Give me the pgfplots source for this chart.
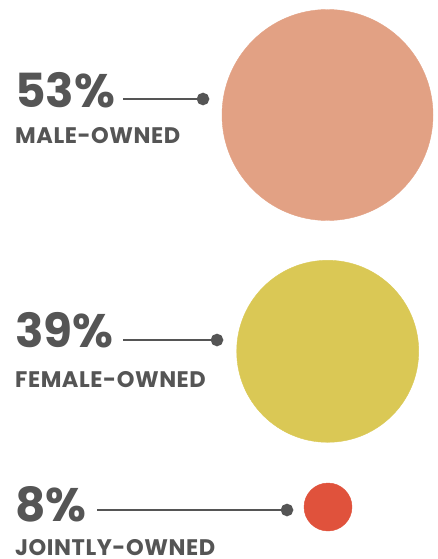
\documentclass[border=0pt]{standalone}
\usepackage{pgfplots}
\pgfplotsset{compat=1.18}
\usepackage{fontspec}
\setmainfont{Poppins}
\definecolor{txt}{HTML}{555555}
\definecolor{male}{HTML}{E2A184}
\definecolor{female}{HTML}{DAC855}
\definecolor{joint}{HTML}{E0523C}
\newcommand{\bignum}[1]{{\fontsize{47}{50}\selectfont\bfseries #1}}
\newcommand{\lab}[1]{{\fontsize{22.5}{24}\selectfont\bfseries\addfontfeature{LetterSpace=2.5}#1}}
\begin{document}
\begin{tikzpicture}
\begin{axis}[
  scale only axis, width=438pt, height=559pt,
  xmin=0, xmax=438, ymin=0, ymax=559, y dir=reverse,
  hide axis, clip=false]
% bubbles
\addplot[male, only marks, mark=*, mark size=105.5pt, mark options={draw=none, fill=male}] coordinates {(327.5,115)};
\addplot[female, only marks, mark=*, mark size=91pt, mark options={draw=none, fill=female}] coordinates {(327.7,351.3)};
\addplot[joint, only marks, mark=*, mark size=24pt, mark options={draw=none, fill=joint}] coordinates {(328,507)};
% leader lines
\addplot[txt, line width=2.5pt, mark=*, mark indices={2}, mark size=5pt, mark options={draw=none, fill=txt}] coordinates {(123,99) (203,99)};
\addplot[txt, line width=2.5pt, mark=*, mark indices={2}, mark size=5pt, mark options={draw=none, fill=txt}] coordinates {(123,340) (217,340)};
\addplot[txt, line width=2.5pt, mark=*, mark indices={2}, mark size=5pt, mark options={draw=none, fill=txt}] coordinates {(97,510) (287,510)};
% labels
\node[anchor=base west, inner sep=0, text=txt] at (axis cs:15,107) {\bignum{53\%}};
\node[anchor=base west, inner sep=0, text=txt] at (axis cs:15,143) {\lab{MALE-OWNED}};
\node[anchor=base west, inner sep=0, text=txt] at (axis cs:15,347) {\bignum{39\%}};
\node[anchor=base west, inner sep=0, text=txt] at (axis cs:15,387) {\lab{FEMALE-OWNED}};
\node[anchor=base west, inner sep=0, text=txt] at (axis cs:15,521) {\bignum{8\%}};
\node[anchor=base west, inner sep=0, text=txt] at (axis cs:15,555) {\lab{JOINTLY-OWNED}};
\end{axis}
\pgfresetboundingbox
\path[use as bounding box] (current axis.south west) rectangle (current axis.north east);
\end{tikzpicture}
\end{document}
